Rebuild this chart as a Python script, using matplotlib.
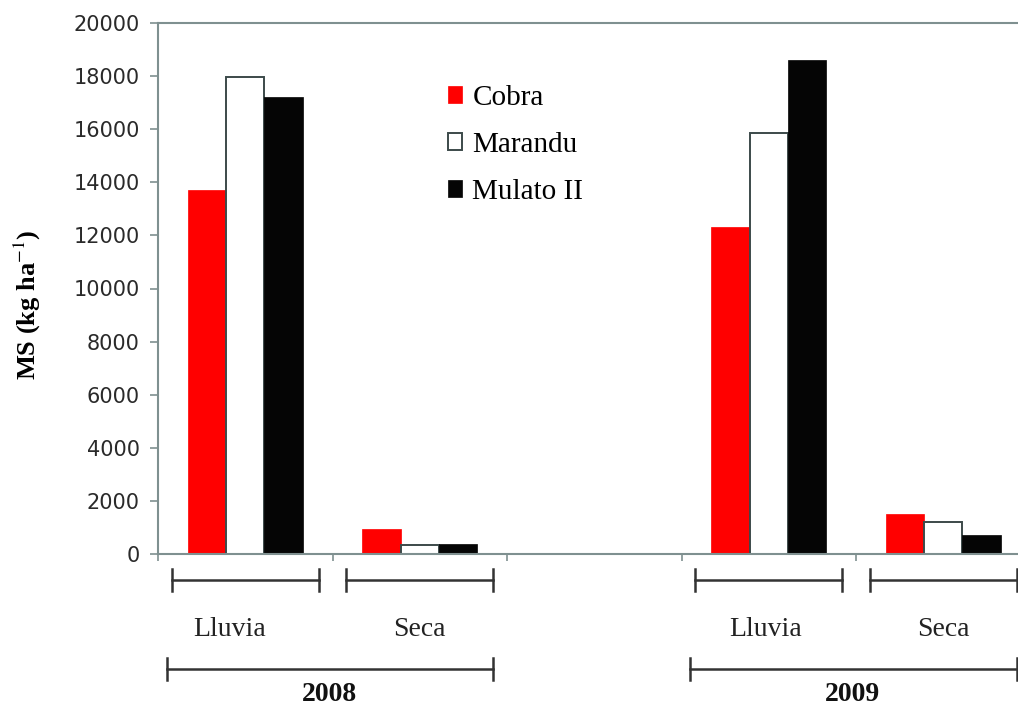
import matplotlib.pyplot as plt
import numpy as np
from matplotlib.transforms import blended_transform_factory

# slots: 2008 Lluvia, 2008 Seca, (empty), 2009 Lluvia, 2009 Seca
seasons = ["Lluvia", "Seca", "", "Lluvia", "Seca"]
years = ["2008", "2009"]
year_slots = [(0, 1), (3, 4)]

cobra = [13700, 950, 0, 12300, 1500]
marandu = [17950, 350, 0, 15850, 1200]
mulato = [17200, 360, 0, 18600, 700]

series = ["Cobra", "Marandu", "Mulato II"]
colors = ["#ff0000", "white", "#050505"]
edges = ["#ff0000", "#3c4a4a", "#050505"]

axis_col = "#7f9090"
serif = ["Liberation Serif", "DejaVu Serif"]
plt.rcParams["mathtext.fontset"] = "stix"

fig = plt.figure(figsize=(10.18, 7.08), dpi=100)
ax = fig.add_axes([158 / 1018, 1 - 554 / 708, 872.5 / 1018, 531 / 708])

x = np.arange(len(seasons))
w = 0.22
for i, (vals, c, e, name) in enumerate(zip([cobra, marandu, mulato], colors, edges, series)):
    ax.bar(x + (i - 1) * w, vals, width=w, color=c, edgecolor=e,
           linewidth=1.4 if c == "white" else 0.5, label=name, zorder=2)

ax.set_xlim(-0.5, len(seasons) - 0.5)
ax.set_ylim(0, 20000)
ax.set_yticks(np.arange(0, 20001, 2000))
ax.tick_params(axis="y", labelsize=15, colors=axis_col, labelcolor="#2a2a2a",
               length=6, width=1.2, pad=7)
ax.set_xticks(np.arange(-0.5, len(seasons), 1.0))
ax.set_xticklabels([])
ax.tick_params(axis="x", length=5, width=1.2, colors=axis_col)
for s in ["left", "bottom", "top"]:
    ax.spines[s].set_color(axis_col)
    ax.spines[s].set_linewidth(1.5)
ax.spines["right"].set_visible(False)

ax.set_ylabel(r"MS (kg ha$^{-1}$)", fontsize=19, fontweight="bold", family=serif)
ax.yaxis.set_label_coords(-0.132, 0.47)

leg = ax.legend(loc="upper left", bbox_to_anchor=(0.3185, 0.905), frameon=False,
                prop={"family": serif, "size": 21}, handlelength=0.5,
                handleheight=0.5, handletextpad=0.35, labelspacing=0.72,
                borderaxespad=0)

tr = blended_transform_factory(ax.transData, ax.transAxes)
half = 0.42
cap = 0.021
label_shift = [-0.09, 0, 0, -0.02, 0]


def bracket(x0, x1, y):
    ax.plot([x0, x1], [y, y], color="#333333", lw=1.8, transform=tr, clip_on=False)
    for xx in (x0, x1):
        ax.plot([xx, xx], [y - cap, y + cap], color="#333333", lw=1.8,
                transform=tr, clip_on=False)


for xi, s, d in zip(x, seasons, label_shift):
    if not s:
        continue
    bracket(xi - half, xi + half, -0.049)
    ax.text(xi + d, -0.142, s, transform=tr, ha="center", va="center",
            fontsize=20, family=serif, color="#222222")

for yr, (a, b) in zip(years, year_slots):
    bracket(a - half - 0.03, b + half, -0.216)
    ax.text((a + b) / 2 - 0.02, -0.265, yr, transform=tr, ha="center", va="center",
            fontsize=20, family=serif, fontweight="bold", color="#111111")

fig.savefig("out.png", dpi=100)
